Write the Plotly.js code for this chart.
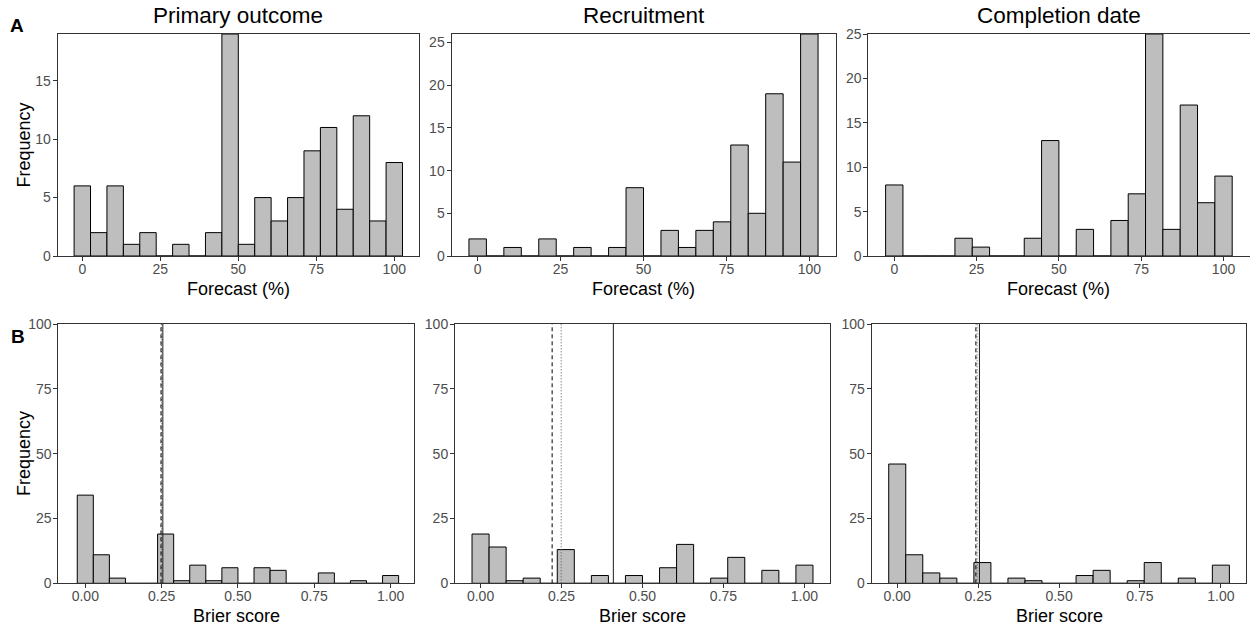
<!DOCTYPE html>
<html>
<head>
<meta charset="utf-8">
<script src="https://cdn.plot.ly/plotly-3.0.1.min.js"></script>
<style>
html, body { margin: 0; padding: 0; background: #ffffff; }
#chart { width: 1250px; height: 628px; }
</style>
</head>
<body>
<div id="chart"></div>
<script>
// ---------- data ----------
const panelTitles = ["Primary outcome", "Recruitment", "Completion date"];
const panelLetters = ["A", "B"];
const forecastTitle = "Forecast (%)";
const brierTitle = "Brier score";
const frequencyTitle = "Frequency";

const forecastTickVals = [0, 25, 50, 75, 100];
const brierTickVals = [0, 0.25, 0.5, 0.75, 1];
const yTicksPrimary = [0, 5, 10, 15];
const yTicksRecruit = [0, 5, 10, 15, 20, 25];
const yTicksCompletion = [0, 5, 10, 15, 20, 25];
const yTicksBrier = [0, 25, 50, 75, 100];

// 20 histogram bins (binwidth = range / 19, centred on 0 and on the max)
const forecastCountsPrimary    = [6, 2, 6, 1, 2, 0, 1, 0, 2, 19, 1, 5, 3, 5, 9, 11, 4, 12, 3, 8];
const forecastCountsRecruit    = [2, 0, 1, 0, 2, 0, 1, 0, 1, 8, 0, 3, 1, 3, 4, 13, 5, 19, 11, 26];
const forecastCountsCompletion = [8, 0, 0, 0, 2, 1, 0, 0, 2, 13, 0, 3, 0, 4, 7, 25, 3, 17, 6, 9];

const brierCountsPrimary    = [34, 11, 2, 0, 0, 19, 1, 7, 1, 6, 0, 6, 5, 0, 0, 4, 0, 1, 0, 3];
const brierCountsRecruit    = [19, 14, 1, 2, 0, 13, 0, 3, 0, 3, 0, 6, 15, 0, 2, 10, 0, 5, 0, 7];
const brierCountsCompletion = [46, 11, 4, 2, 0, 8, 0, 2, 1, 0, 0, 3, 5, 0, 1, 8, 0, 2, 0, 7];

// reference lines in the Brier panels (Primary, Recruitment, Completion)
const brierDashedLine = [0.248, 0.221, 0.243];
const brierDottedLine = [0.25, 0.249, 0.247];
const brierSolidLine  = [0.254, 0.410, 0.254];

// ---------- bins ----------
const N_BINS = forecastCountsPrimary.length;
const forecastMax = 100, brierMax = 1;
const forecastBinWidth = forecastMax / (N_BINS - 1);
const brierBinWidth = brierMax / (N_BINS - 1);
const forecastBinCenters = forecastCountsPrimary.map((_, i) => i * forecastBinWidth);
const brierBinCenters = brierCountsPrimary.map((_, i) => i * brierBinWidth);

// ---------- style ----------
const FONT = "Liberation Sans, Arial, sans-serif";
const BAR_FILL = "#BEBEBE";
const BORDER = "#333333";
const TICKTXT = "#4D4D4D";

const W = 1250, H = 628;
const px = v => v / W;
const py = v => 1 - v / H;

const topRowY = [py(256), py(34)];
const botRowY = [py(583.3), py(324)];
const topX = [[57.7, 418.9], [451.5, 835.5], [868.3, 1249.5]];
const botX = [[58.3, 414.3], [455, 830], [871.7, 1246.4]];
const botXRange = [[-0.0884, 1.0776], [-0.0789, 1.0789], [-0.0789, 1.0789]];

const forecastSets = [forecastCountsPrimary, forecastCountsRecruit, forecastCountsCompletion];
const brierSets = [brierCountsPrimary, brierCountsRecruit, brierCountsCompletion];
const yTickSets = [yTicksPrimary, yTicksRecruit, yTicksCompletion];
const topYMax = [19, 26, 25];

const traces = [];
const layout = {
  width: W, height: H,
  margin: {l: 0, r: 0, t: 0, b: 0},
  paper_bgcolor: "#ffffff",
  plot_bgcolor: "#ffffff",
  showlegend: false,
  font: {family: FONT},
  annotations: [],
  shapes: []
};

function axisBase(letter) {
  return {
    showline: true, mirror: true, linecolor: BORDER, linewidth: 1,
    ticks: "outside", ticklen: 4, tickwidth: 1, tickcolor: BORDER,
    ticklabelstandoff: letter === "x" ? -4 : -1,
    showgrid: false, zeroline: false, automargin: false, fixedrange: true,
    tickfont: {family: FONT, size: 14, color: TICKTXT}
  };
}

for (let p = 0; p < 3; p++) {
  // top row (forecast)
  const iTop = p + 1;
  const xs = iTop === 1 ? "" : String(iTop);
  traces.push({
    type: "bar", x: forecastBinCenters, y: forecastSets[p], width: forecastBinWidth,
    xaxis: "x" + xs, yaxis: "y" + xs,
    marker: {color: BAR_FILL, line: {color: "#000000", width: 1}},
    hoverinfo: "skip"
  });
  layout["xaxis" + xs] = Object.assign(axisBase("x"), {
    domain: [px(topX[p][0]), px(topX[p][1])], anchor: "y" + xs,
    range: [-7.89, 107.89], tickvals: forecastTickVals
  });
  layout["yaxis" + xs] = Object.assign(axisBase("y"), {
    domain: topRowY, anchor: "x" + xs,
    range: [0, topYMax[p]], tickvals: yTickSets[p]
  });

  // bottom row (Brier)
  const iBot = p + 4;
  const xb = String(iBot);
  traces.push({
    type: "bar", x: brierBinCenters, y: brierSets[p], width: brierBinWidth,
    xaxis: "x" + xb, yaxis: "y" + xb,
    marker: {color: BAR_FILL, line: {color: "#000000", width: 1}},
    hoverinfo: "skip"
  });
  layout["xaxis" + xb] = Object.assign(axisBase("x"), {
    domain: [px(botX[p][0]), px(botX[p][1])], anchor: "y" + xb,
    range: botXRange[p], tickvals: brierTickVals, tickformat: ".2f"
  });
  layout["yaxis" + xb] = Object.assign(axisBase("y"), {
    domain: botRowY, anchor: "x" + xb,
    range: [0, 100], tickvals: yTicksBrier
  });

  // reference lines
  const lineDefs = [
    {x: brierDottedLine[p], dash: "1px,2px", color: "#555555"},
    {x: brierDashedLine[p], dash: "4px,3px", color: "#000000"},
    {x: brierSolidLine[p], dash: "solid", color: "#1a1a1a"}
  ];
  lineDefs.forEach(d => {
    layout.shapes.push({
      type: "line", xref: "x" + xb, yref: "y" + xb,
      x0: d.x, x1: d.x, y0: 0, y1: 100,
      line: {color: d.color, width: 1, dash: d.dash}, layer: "above"
    });
  });

  // panel titles
  const cxTop = (topX[p][0] + topX[p][1]) / 2;
  const cxBot = (botX[p][0] + botX[p][1]) / 2;
  layout.annotations.push({
    text: panelTitles[p], xref: "paper", yref: "paper",
    x: px(cxTop), y: py(15.6), xanchor: "center", yanchor: "middle",
    showarrow: false, font: {family: FONT, size: 22.5, color: "#000000"}
  });
  layout.annotations.push({
    text: forecastTitle, xref: "paper", yref: "paper",
    x: px(cxTop), y: py(289), xanchor: "center", yanchor: "middle",
    showarrow: false, font: {family: FONT, size: 18, color: "#000000"}
  });
  layout.annotations.push({
    text: brierTitle, xref: "paper", yref: "paper",
    x: px(cxBot), y: py(616), xanchor: "center", yanchor: "middle",
    showarrow: false, font: {family: FONT, size: 18, color: "#000000"}
  });
}

// y titles and panel letters
[145, 453.5].forEach(cy => {
  layout.annotations.push({
    text: frequencyTitle, xref: "paper", yref: "paper",
    x: px(23.5), y: py(cy), xanchor: "center", yanchor: "middle", textangle: -90,
    showarrow: false, font: {family: FONT, size: 18, color: "#000000"}
  });
});
layout.annotations.push({
  text: "<b>" + panelLetters[0] + "</b>", xref: "paper", yref: "paper",
  x: px(17), y: py(25), xanchor: "center", yanchor: "middle",
  showarrow: false, font: {family: FONT, size: 19, color: "#000000"}
});
layout.annotations.push({
  text: "<b>" + panelLetters[1] + "</b>", xref: "paper", yref: "paper",
  x: px(18), y: py(336), xanchor: "center", yanchor: "middle",
  showarrow: false, font: {family: FONT, size: 19, color: "#000000"}
});

Plotly.newPlot("chart", traces, layout, {displayModeBar: false, staticPlot: true});
</script>
</body>
</html>
